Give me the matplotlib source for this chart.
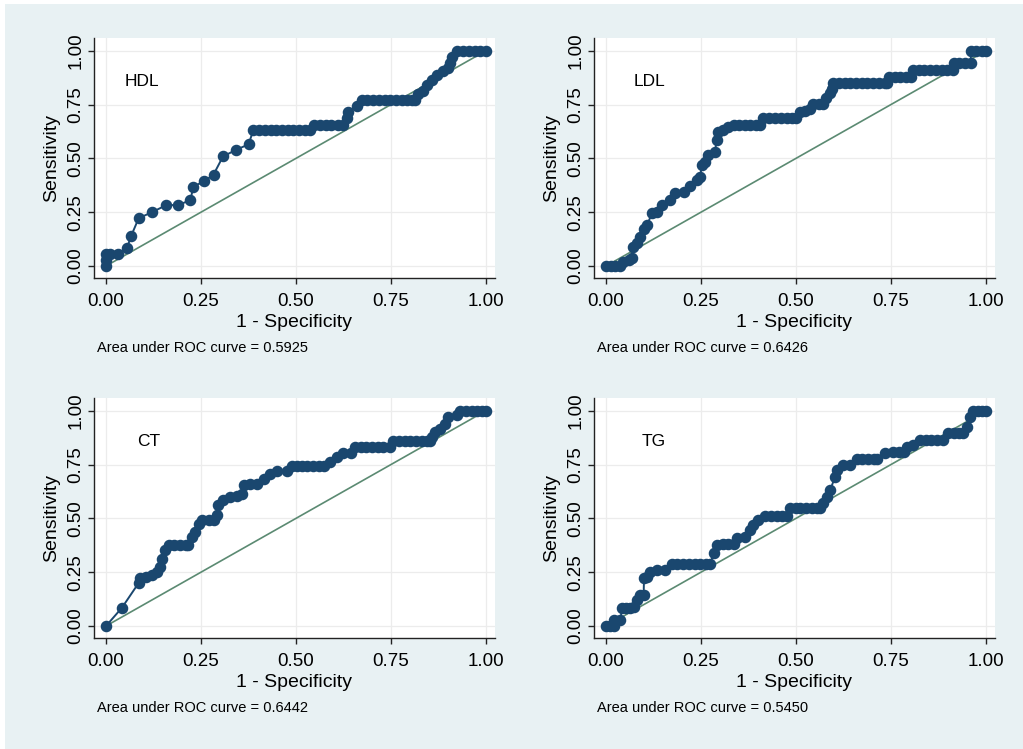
import matplotlib
matplotlib.use("Agg")
import matplotlib.pyplot as plt
from matplotlib.patches import Rectangle

plt.rcParams["font.family"] = ["Liberation Sans", "DejaVu Sans"]

NAVY = "#1a476f"
DIAG = "#5b8a72"
BG = "#e8f1f3"

# ---- ROC points (1 - specificity, sensitivity) ----
hdl_fpr = [0, 0, 0, 0.011, 0.032, 0.055, 0.066, 0.086, 0.121, 0.159, 0.19, 0.222, 0.23,
           0.259, 0.283, 0.308, 0.343, 0.375, 0.388, 0.403, 0.418, 0.433, 0.448, 0.463,
           0.478, 0.493, 0.508, 0.523, 0.537, 0.548, 0.563, 0.578, 0.593, 0.61, 0.625,
           0.634, 0.638, 0.66, 0.673, 0.688, 0.703, 0.718, 0.733, 0.748, 0.763, 0.778,
           0.793, 0.806, 0.813, 0.822, 0.833, 0.844, 0.858, 0.87, 0.888, 0.9, 0.906,
           0.91, 0.923, 0.94, 0.955, 0.97, 0.985, 1.0]
hdl_tpr = [0, 0.028, 0.056, 0.056, 0.056, 0.083, 0.139, 0.222, 0.25, 0.283, 0.283, 0.306,
           0.369, 0.394, 0.425, 0.509, 0.54, 0.565, 0.632, 0.632, 0.632, 0.632, 0.632,
           0.632, 0.632, 0.632, 0.632, 0.632, 0.632, 0.655, 0.655, 0.655, 0.655, 0.655,
           0.655, 0.686, 0.717, 0.743, 0.771, 0.771, 0.771, 0.771, 0.771, 0.771, 0.771,
           0.771, 0.771, 0.771, 0.771, 0.8, 0.815, 0.84, 0.862, 0.887, 0.905, 0.918,
           0.944, 0.972, 1.0, 1.0, 1.0, 1.0, 1.0, 1.0]

ldl_fpr = [0, 0.012, 0.024, 0.036, 0.046, 0.06, 0.068, 0.07, 0.081, 0.09, 0.099, 0.108,
           0.121, 0.134, 0.147, 0.169, 0.182, 0.204, 0.221, 0.239, 0.248, 0.252, 0.26,
           0.269, 0.287, 0.291, 0.295, 0.308, 0.322, 0.337, 0.35, 0.365, 0.38, 0.395,
           0.405, 0.414, 0.43, 0.445, 0.46, 0.475, 0.49, 0.501, 0.51, 0.523, 0.536,
           0.545, 0.56, 0.572, 0.58, 0.59, 0.594, 0.598, 0.613, 0.628, 0.643, 0.658,
           0.673, 0.688, 0.703, 0.718, 0.733, 0.74, 0.746, 0.76, 0.775, 0.79, 0.803,
           0.808, 0.823, 0.838, 0.853, 0.868, 0.883, 0.898, 0.913, 0.917, 0.93, 0.945,
           0.96, 0.96, 0.975, 0.99, 1.0]
ldl_tpr = [0, 0, 0, 0, 0.02, 0.028, 0.036, 0.09, 0.105, 0.136, 0.17, 0.19,
           0.245, 0.252, 0.283, 0.306, 0.337, 0.345, 0.372, 0.4, 0.415, 0.469, 0.485,
           0.515, 0.53, 0.585, 0.624, 0.632, 0.645, 0.655, 0.655, 0.655, 0.655, 0.655,
           0.655, 0.686, 0.686, 0.686, 0.686, 0.686, 0.686, 0.686, 0.717, 0.72, 0.728,
           0.752, 0.752, 0.752, 0.779, 0.805, 0.82, 0.848, 0.848, 0.848, 0.848, 0.848,
           0.848, 0.848, 0.848, 0.848, 0.848, 0.848, 0.879, 0.879, 0.879, 0.879, 0.879,
           0.91, 0.91, 0.91, 0.91, 0.91, 0.91, 0.91, 0.91, 0.941, 0.941, 0.941,
           0.941, 1.0, 1.0, 1.0, 1.0]

ct_fpr = [0, 0.042, 0.086, 0.09, 0.105, 0.121, 0.134, 0.143, 0.147, 0.156, 0.165, 0.18,
          0.195, 0.21, 0.217, 0.226, 0.235, 0.244, 0.252, 0.27, 0.283, 0.291, 0.296,
          0.309, 0.326, 0.344, 0.357, 0.362, 0.379, 0.397, 0.415, 0.432, 0.45, 0.476,
          0.489, 0.502, 0.517, 0.53, 0.545, 0.56, 0.575, 0.59, 0.607, 0.625, 0.646,
          0.655, 0.67, 0.685, 0.7, 0.715, 0.73, 0.747, 0.756, 0.771, 0.786, 0.801,
          0.816, 0.831, 0.846, 0.853, 0.857, 0.866, 0.879, 0.892, 0.901, 0.923, 0.932,
          0.947, 0.962, 0.977, 0.99, 1.0]
ct_tpr = [0, 0.085, 0.2, 0.221, 0.226, 0.236, 0.252, 0.275, 0.312, 0.351, 0.375, 0.375,
          0.375, 0.375, 0.375, 0.414, 0.437, 0.476, 0.491, 0.491, 0.491, 0.515, 0.561,
          0.584, 0.6, 0.603, 0.615, 0.654, 0.658, 0.658, 0.685, 0.708, 0.72, 0.72,
          0.742, 0.745, 0.745, 0.745, 0.745, 0.745, 0.745, 0.762, 0.785, 0.802, 0.802,
          0.83, 0.83, 0.83, 0.83, 0.83, 0.83, 0.83, 0.86, 0.86, 0.86, 0.86,
          0.86, 0.86, 0.86, 0.86, 0.878, 0.901, 0.917, 0.94, 0.971, 0.978, 1.0,
          1.0, 1.0, 1.0, 1.0, 1.0]

tg_fpr = [0, 0.01, 0.02, 0.02, 0.038, 0.042, 0.053, 0.064, 0.073, 0.082, 0.09, 0.099,
          0.1, 0.108, 0.117, 0.134, 0.156, 0.173, 0.188, 0.203, 0.218, 0.233, 0.248,
          0.262, 0.274, 0.283, 0.292, 0.309, 0.322, 0.336, 0.344, 0.366, 0.379, 0.388,
          0.401, 0.419, 0.434, 0.449, 0.464, 0.476, 0.485, 0.5, 0.511, 0.526, 0.542,
          0.555, 0.564, 0.572, 0.581, 0.59, 0.603, 0.607, 0.625, 0.642, 0.66, 0.675,
          0.69, 0.705, 0.712, 0.734, 0.756, 0.772, 0.783, 0.791, 0.808, 0.826, 0.841,
          0.856, 0.871, 0.888, 0.901, 0.915, 0.928, 0.94, 0.949, 0.958, 0.967, 0.98,
          0.99, 1.0]
tg_tpr = [0, 0, 0, 0.028, 0.03, 0.082, 0.082, 0.082, 0.09, 0.12, 0.144, 0.144,
          0.221, 0.229, 0.252, 0.258, 0.258, 0.288, 0.288, 0.288, 0.288, 0.288, 0.288,
          0.288, 0.288, 0.337, 0.376, 0.38, 0.38, 0.38, 0.407, 0.415, 0.446, 0.469,
          0.492, 0.512, 0.512, 0.512, 0.512, 0.512, 0.546, 0.546, 0.548, 0.548, 0.548,
          0.548, 0.548, 0.57, 0.601, 0.632, 0.693, 0.724, 0.748, 0.748, 0.776, 0.776,
          0.776, 0.776, 0.776, 0.802, 0.806, 0.806, 0.806, 0.833, 0.841, 0.864, 0.864,
          0.864, 0.864, 0.864, 0.895, 0.895, 0.895, 0.895, 0.926, 0.972, 1.0, 1.0,
          1.0, 1.0]

names = ["HDL", "LDL", "CT", "TG"]
aucs = ["0.5925", "0.6426", "0.6442", "0.5450"]
name_x = [0.05, 0.072, 0.082, 0.094]
ticks = [0, 0.25, 0.5, 0.75, 1.0]
tick_labels = ["0.00", "0.25", "0.50", "0.75", "1.00"]

curves = [(hdl_fpr, hdl_tpr), (ldl_fpr, ldl_tpr), (ct_fpr, ct_tpr), (tg_fpr, tg_tpr)]

W, H = 1023, 749
fig = plt.figure(figsize=(W / 100, H / 100), dpi=100, facecolor="white")
fig.patches.append(Rectangle((5 / W, 0), 1, 1 - 4 / H, transform=fig.transFigure,
                             facecolor=BG, edgecolor="none", zorder=-10))

# axes boxes in pixels: left edge, bottom spine
lefts = [94, 594, 94, 594]
bottoms = [278, 278, 638, 638]
aw, ah = 401, 240

for i, (fpr, tpr) in enumerate(curves):
    ax = fig.add_axes([lefts[i] / W, 1 - bottoms[i] / H, aw / W, ah / H])
    ax.set_facecolor("white")
    ax.set_xlim(-0.0316, 1.0237)
    ax.set_ylim(-0.0557, 1.059)
    for t in ticks:
        ax.axhline(t, color="#ececec", lw=0.9, zorder=0)
        ax.axvline(t, color="#ececec", lw=0.9, zorder=0)
    ax.plot([0, 1], [0, 1], color=DIAG, lw=1.2, zorder=2)
    ax.plot(fpr, tpr, color=NAVY, lw=1.4, marker="o", ms=7.3, mec=NAVY, mfc=NAVY, zorder=3)
    for s in ("top", "right"):
        ax.spines[s].set_visible(False)
    for s in ("left", "bottom"):
        ax.spines[s].set_color("#222222")
        ax.spines[s].set_linewidth(1.0)
    ax.set_xticks(ticks)
    ax.set_xticklabels(tick_labels)
    ax.set_yticks(ticks)
    ax.set_yticklabels(tick_labels, rotation=90, va="center")
    ax.tick_params(axis="both", length=4, width=1, color="#222222", labelsize=13.5)
    ax.tick_params(axis="x", pad=6.5)
    ax.tick_params(axis="y", pad=3)
    ax.set_xlabel("1 - Specificity", fontsize=14, labelpad=3)
    ax.set_ylabel("Sensitivity", fontsize=14, labelpad=5)
    ax.text(name_x[i], 0.855, names[i], fontsize=12.5, va="center", ha="left")
    ax.text(0.008, -0.29, "Area under ROC curve = " + aucs[i], transform=ax.transAxes,
            fontsize=10.5, va="center", ha="left")

fig.savefig("out.png", dpi=100, facecolor=fig.get_facecolor())
